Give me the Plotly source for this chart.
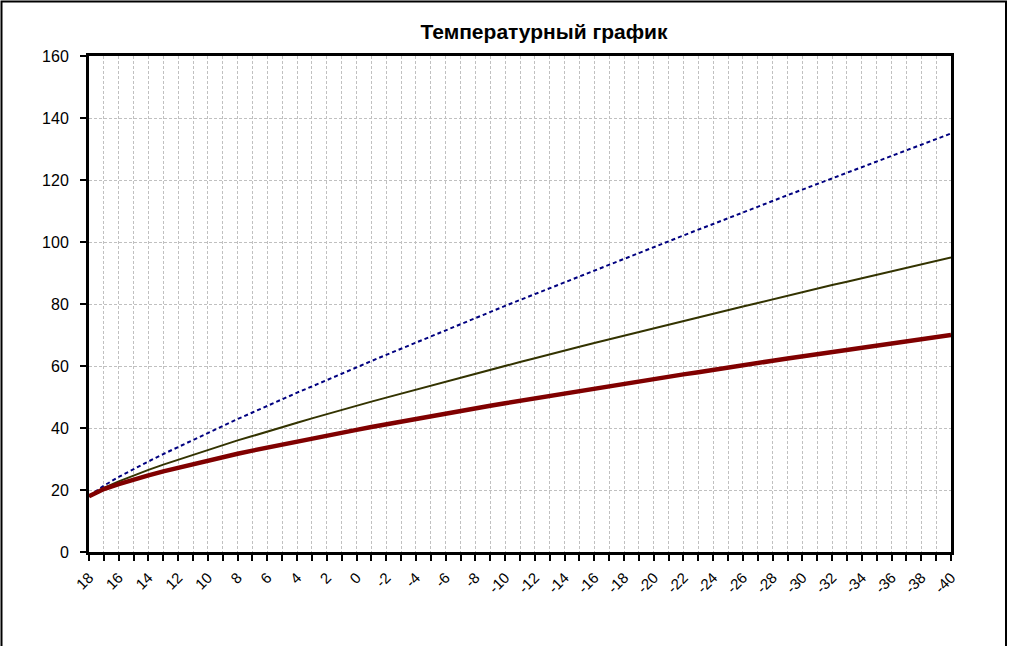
import plotly.graph_objects as go

# Outdoor temperature categories (°C)
outdoor_temp = [18, 17, 16, 15, 14, 13, 12, 11, 10, 9, 8, 7, 6, 5, 4, 3, 2, 1, 0,
                -1, -2, -3, -4, -5, -6, -7, -8, -9, -10, -11, -12, -13, -14, -15,
                -16, -17, -18, -19, -20, -21, -22, -23, -24, -25, -26, -27, -28,
                -29, -30, -31, -32, -33, -34, -35, -36, -37, -38, -39, -40]

# Supply water temperature (blue dashed)
supply = [18.0, 21.4, 24.2, 26.8, 29.2, 31.6, 33.9, 36.2, 38.5, 40.7, 42.9, 45.0,
          47.2, 49.3, 51.4, 53.4, 55.5, 57.6, 59.6, 61.6, 63.6, 65.6, 67.6, 69.6,
          71.6, 73.5, 75.5, 77.4, 79.4, 81.3, 83.2, 85.1, 87.1, 89.0, 90.9, 92.7,
          94.6, 96.5, 98.4, 100.3, 102.1, 104.0, 105.8, 107.7, 109.5, 111.4, 113.2,
          115.1, 116.9, 118.7, 120.5, 122.4, 124.2, 126.0, 127.8, 129.6, 131.4,
          133.2, 135.0]

# Mixed supply temperature (olive)
mixed = [18.0, 20.7, 22.8, 24.7, 26.5, 28.2, 29.8, 31.4, 32.9, 34.5, 36.0, 37.4,
         38.9, 40.3, 41.7, 43.1, 44.5, 45.8, 47.2, 48.5, 49.8, 51.1, 52.4, 53.7,
         55.0, 56.3, 57.5, 58.8, 60.1, 61.3, 62.5, 63.8, 65.0, 66.2, 67.4, 68.6,
         69.8, 71.0, 72.2, 73.4, 74.5, 75.7, 76.9, 78.0, 79.2, 80.3, 81.5, 82.6,
         83.8, 84.9, 86.1, 87.2, 88.3, 89.4, 90.6, 91.7, 92.8, 93.9, 95.0]

# Return water temperature (dark red)
ret = [18.0, 20.3, 21.9, 23.4, 24.7, 26.0, 27.2, 28.4, 29.5, 30.6, 31.7, 32.7,
       33.7, 34.7, 35.7, 36.6, 37.6, 38.5, 39.4, 40.3, 41.2, 42.1, 43.0, 43.8,
       44.7, 45.5, 46.3, 47.2, 48.0, 48.8, 49.6, 50.4, 51.2, 52.0, 52.7, 53.5,
       54.3, 55.0, 55.8, 56.5, 57.3, 58.0, 58.8, 59.5, 60.2, 61.0, 61.7, 62.4,
       63.1, 63.8, 64.5, 65.2, 65.9, 66.6, 67.3, 68.0, 68.6, 69.3, 70.0]

y_ticks = [0, 20, 40, 60, 80, 100, 120, 140, 160]

cats = [str(t) for t in outdoor_temp]
tick_text = [c if t % 2 == 0 else "" for c, t in zip(cats, outdoor_temp)]

FONT = "Liberation Sans, Arial, sans-serif"

fig = go.Figure()
fig.add_trace(go.Scatter(x=cats, y=supply, mode="lines",
                         line=dict(color="#000080", width=2, dash="4px,3px"),
                         showlegend=False, hoverinfo="skip"))
fig.add_trace(go.Scatter(x=cats, y=mixed, mode="lines",
                         line=dict(color="#333300", width=2),
                         showlegend=False, hoverinfo="skip"))
fig.add_trace(go.Scatter(x=cats, y=ret, mode="lines",
                         line=dict(color="#800000", width=4.5),
                         showlegend=False, hoverinfo="skip"))

L, R, T, B = 89, 60, 56, 94
W, H = 1011, 646
pw, ph = W - L - R, H - T - B

def px(xp):
    return (xp - L) / pw

def py(yp):
    return (H - B - yp) / ph

fig.update_layout(
    width=W, height=H,
    margin=dict(l=L, r=R, t=T, b=B, pad=0),
    paper_bgcolor="white", plot_bgcolor="white",
    font=dict(family=FONT, size=14, color="black"),
    title=dict(text="<b>Температурный график</b>",
               font=dict(family=FONT, size=21, color="black"),
               x=px(544), xref="paper", xanchor="center",
               y=1 - 32 / H, yref="container", yanchor="middle"),
    xaxis=dict(type="category", range=[0, len(cats) - 1],
               tickmode="array", tickvals=cats, ticktext=tick_text,
               tickangle=-45, ticks="outside", ticklen=6, tickwidth=1.5,
               tickcolor="black",
               showline=True, linecolor="black", linewidth=3, mirror=True,
               showgrid=True, gridcolor="#c0c0c0", gridwidth=1, griddash="3px,2px",
               zeroline=False, ticklabelstandoff=2,
               tickfont=dict(family=FONT, size=15, color="black")),
    yaxis=dict(range=[0, 160], tickmode="array", tickvals=y_ticks,
               ticks="outside", ticklen=6, tickwidth=1.5, tickcolor="black",
               showline=True, linecolor="black", linewidth=3, mirror=True,
               showgrid=True, gridcolor="#c0c0c0", gridwidth=1, griddash="3px,2px",
               zeroline=False, ticklabelstandoff=8,
               tickfont=dict(family=FONT, size=16, color="black")),
    shapes=[dict(type="rect", xref="paper", yref="paper",
                 x0=px(1.5), x1=px(1006), y0=py(660), y1=py(1.5),
                 line=dict(color="black", width=2), fillcolor="rgba(0,0,0,0)",
                 layer="below")],
)

fig.write_html("out.html", config={"displayModeBar": False},
               post_script="document.body.style.margin='0px';"
                           "document.body.style.overflow='hidden';")
